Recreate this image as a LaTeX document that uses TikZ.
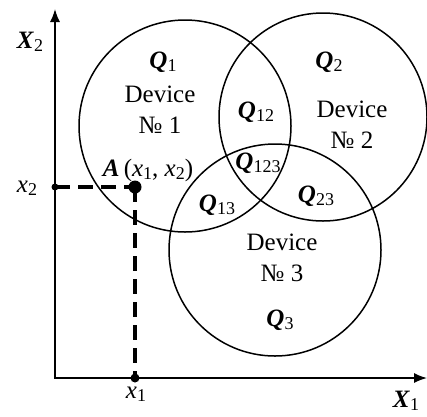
\documentclass[tikz,border=0pt]{standalone}
\usepackage{fontspec}
\setmainfont{Liberation Serif}
\usetikzlibrary{arrows.meta}
\newcommand\bq{\textbf{\textit{Q}}}
\newcommand\sbs[1]{\raisebox{-0.28ex}{\fontsize{18}{18}\selectfont #1}}
\newcommand\QQ[1]{\bq\sbs{#1}}
\tikzset{
  dev/.style={circle, draw, line width=1.5pt, minimum size=212pt, inner sep=0pt},
  lbl/.style={font=\fontsize{25}{31}\selectfont, inner sep=0pt, align=center},
  axis/.style={line width=1.5pt},
  guide/.style={line width=3.2pt, dash pattern=on 15pt off 8pt},
  dotS/.style={circle, fill, inner sep=0pt, minimum size=7pt},
  dotL/.style={circle, fill, inner sep=0pt, minimum size=13pt},
}
\begin{document}
\begin{tikzpicture}[x=1pt,y=-1pt]
\useasboundingbox (0,0) rectangle (427,416);
% circles
\node[dev] (c1) at (185,126) {};
\node[dev, minimum size=208pt] (c2) at (323,117) {};
\node[dev] (c3) at (275,250) {};
% axes
\coordinate (ytip) at (55,9);
\coordinate (o) at (55,378);
\coordinate (xtip) at (427,378);
\draw[axis, {Latex[length=13pt,width=10pt]}-{Latex[length=13pt,width=10pt]}] (ytip) -- (o) -- (xtip);
% points
\node[dotS] (px2) at (55,187) {};
\node[dotL] (pA) at (135,187) {};
\node[dotS, minimum size=9pt] (px1) at (135,378) {};
\draw[guide] (px2.center) -- (pA.center);
\draw[guide] (pA.center) -- (px1.center);
% labels
\node[lbl] (lX2) at (30,42) {\textbf{\textit{X}}\sbs{2}};
\node[lbl] (lx2) at (27,188) {\textit{x}\sbs{2}};
\node[lbl] (lx1) at (136,394) {\textit{x}\sbs{1}};
\node[lbl] (lX1) at (406,401) {\textbf{\textit{X}}\sbs{1}};
\node[lbl] (lA) at (148,170) {\textbf{\textit{A}}\,(\textit{x}\sbs{1}, \textit{x}\sbs{2})};
\node[lbl] (q1) at (163,62) {\QQ{1}};
\node[lbl] (d1) at (160,110) {Device\\№ 1};
\node[lbl] (q2) at (329,62) {\QQ{2}};
\node[lbl] (d2) at (352,125) {Device\\№ 2};
\node[lbl] (q12) at (256,112) {\QQ{12}};
\node[lbl] (q123) at (258,163) {\QQ{123}};
\node[lbl] (q13) at (217,205) {\QQ{13}};
\node[lbl] (q23) at (316,196) {\QQ{23}};
\node[lbl] (d3) at (282,258) {Device\\№ 3};
\node[lbl] (q3) at (280,320) {\QQ{3}};
\end{tikzpicture}
\end{document}
